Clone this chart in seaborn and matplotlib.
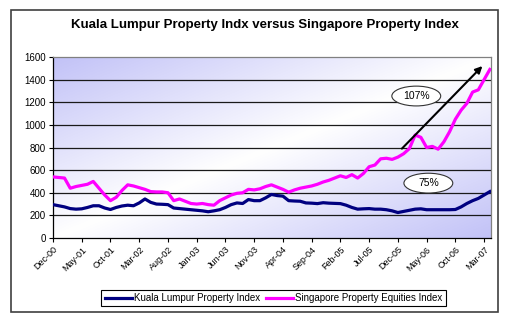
import numpy as np
import pandas as pd
import matplotlib
matplotlib.use("Agg")
import matplotlib.pyplot as plt
from matplotlib.patches import Ellipse, Rectangle
import seaborn as sns

# ---- data (monthly, Dec-00 .. Apr-07) ----
tick_labels = ["Dec-00", "May-01", "Oct-01", "Mar-02", "Aug-02", "Jan-03", "Jun-03",
               "Nov-03", "Apr-04", "Sep-04", "Feb-05", "Jul-05", "Dec-05", "May-06",
               "Oct-06", "Mar-07"]
series_names = ["Kuala Lumpur Property Index", "Singapore Property Equities Index"]

kl_index = [295, 285, 275, 260, 255, 258, 270, 285, 285, 265,
            252, 270, 283, 290, 285, 310, 345, 315, 300, 298,
            295, 265, 260, 255, 250, 245, 240, 232, 240, 250,
            270, 295, 310, 305, 340, 330, 330, 355, 385, 375,
            370, 330, 327, 325, 310, 308, 304, 312, 308, 306,
            304, 290, 270, 255, 258, 260, 255, 255, 250, 240,
            225, 235, 245, 255, 258, 250, 250, 250, 250, 250,
            252, 275, 305, 330, 350, 380, 410]

sg_index = [540, 535, 530, 440, 455, 465, 475, 500, 440, 380,
            330, 360, 420, 470, 460, 445, 430, 410, 407, 407,
            400, 330, 345, 325, 305, 300, 305, 295, 290, 330,
            355, 380, 395, 400, 430, 425, 435, 455, 470, 450,
            430, 405, 425, 440, 450, 460, 475, 495, 510, 530,
            550, 535, 560, 530, 570, 630, 645, 700, 705, 695,
            715, 745, 790, 910, 890, 800, 810, 785, 850, 940,
            1050, 1130, 1190, 1290, 1310, 1400, 1490]

annot_labels = ["107%", "75%"]

month = np.arange(len(kl_index))
df = pd.DataFrame({
    "month": np.concatenate([month, month]),
    "value": kl_index + sg_index,
    "series": [series_names[0]] * len(kl_index) + [series_names[1]] * len(sg_index),
})

fig = plt.figure(figsize=(5.08, 3.22), dpi=100)
fig.patch.set_facecolor("white")
ax = fig.add_axes([53 / 508, 1 - 238 / 322, 438 / 508, 181 / 322])

# gradient background
n = 200
u = np.linspace(0, 1, n)[None, :]
v = np.linspace(0, 1, n)[:, None]
d = (u + v) / 2
w = np.abs(d - 0.5) * 2
lav = np.array([0.76, 0.76, 0.97])
img = (1 - w[..., None]) * np.ones(3) + w[..., None] * lav
ax.imshow(img, extent=[0, 1, 0, 1], transform=ax.transAxes, aspect="auto",
          zorder=0, origin="upper")

for yv in range(200, 1600, 200):
    ax.axhline(yv, color="#1a1a1a", lw=0.9, zorder=1)

sns.lineplot(data=df, x="month", y="value", hue="series",
             palette=["#000080", "#ff00ff"], linewidth=2.3, ax=ax, zorder=3)

ax.set_xlim(0, 76.2)
ax.set_ylim(0, 1600)
ax.set_yticks(range(0, 1601, 200))
ax.set_xticks(range(0, 76, 5))
ax.set_xticklabels(tick_labels, rotation=45, ha="right", rotation_mode="anchor",
                   fontsize=6.5, family="Liberation Sans")
for lab in ax.get_yticklabels():
    lab.set_fontsize(7)
    lab.set_family("Liberation Sans")
ax.set_xlabel("")
ax.set_ylabel("")
ax.tick_params(axis="both", direction="out", length=3, width=0.8, pad=2, colors="black")
ax.spines["left"].set_color("black")
ax.spines["bottom"].set_color("black")
ax.spines["top"].set_color("#808080")
ax.spines["right"].set_color("#808080")
for s in ax.spines.values():
    s.set_linewidth(0.9)

# arrow
ax.annotate("", xy=(74.7, 1520), xytext=(60.7, 790),
            arrowprops=dict(arrowstyle="-|>", color="black", lw=1.5,
                            mutation_scale=10, shrinkA=0, shrinkB=0), zorder=5)

# ellipses with labels
for (cx, cy, lab) in [(63.2, 1255, annot_labels[0]), (65.3, 485, annot_labels[1])]:
    e = Ellipse((cx, cy), width=8.5, height=175, facecolor="white",
                edgecolor="#333333", lw=0.8, zorder=6)
    ax.add_patch(e)
    ax.text(cx, cy, lab, ha="center", va="center", fontsize=7.5,
            family="Liberation Sans", zorder=7)

# title
fig.text(0.522, 1 - 25 / 322, "Kuala Lumpur Property Indx versus Singapore Property Index",
         ha="center", va="center", fontsize=9.5, fontweight="bold",
         family="Liberation Sans")

# legend
handles, labels = ax.get_legend_handles_labels()
ax.legend(handles, labels, loc="center", bbox_to_anchor=(273.5 / 508, 1 - 298 / 322),
          bbox_transform=fig.transFigure, ncol=2, frameon=True, fancybox=False,
          edgecolor="black", framealpha=1, prop={"family": "Liberation Sans", "size": 7},
          handlelength=2.8, handletextpad=0.2, columnspacing=0.6, borderpad=0.35,
          borderaxespad=0)
ax.get_legend().get_frame().set_linewidth(0.8)

# outer frame
fig.patches.append(Rectangle((11 / 508, 1 - 312 / 322), 487 / 508, 302 / 322,
                             transform=fig.transFigure, fill=False,
                             edgecolor="#404040", lw=1.2))

fig.savefig("out.png", dpi=100)
